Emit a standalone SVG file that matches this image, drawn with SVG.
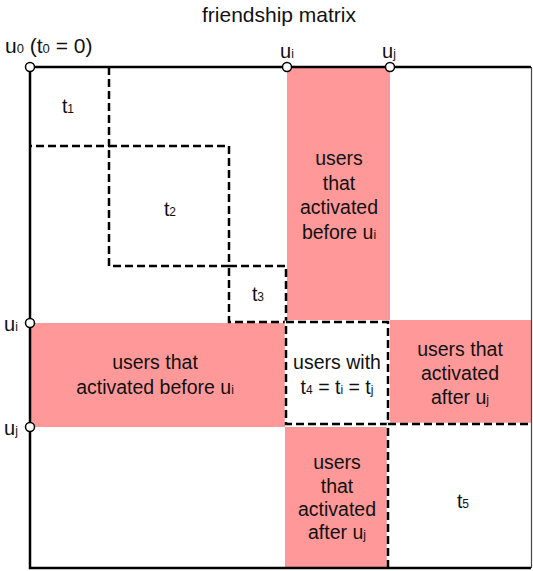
<svg xmlns="http://www.w3.org/2000/svg" width="533" height="571" viewBox="0 0 533 571">
<style>
  text { font-family: "Liberation Sans", Arial, sans-serif; fill: #111; }
  .lbl { font-size: 19.5px; text-anchor: middle; }
  .side { font-size: 20px; }
  .s { font-size: 12px; }
  .pink { fill: #ff9999; }
  .dash { fill: none; stroke: #000; stroke-width: 2.5; stroke-dasharray: 8 4; }
  .under { fill: none; stroke: #fff; stroke-width: 2.5; }
  .border { fill: none; stroke: #000; stroke-width: 2.5; }
  .pt { fill: #fff; stroke: #000; stroke-width: 1.5; }
</style>
<rect width="533" height="571" fill="#fff"/>
<text x="279" y="22" class="lbl" style="font-size:21px">friendship matrix</text>

<g id="before-ui-col">
  <rect class="pink" x="287" y="67" width="103" height="253"/>
  <text class="lbl" x="339" y="165">users</text>
  <text class="lbl" x="339" y="190">that</text>
  <text class="lbl" x="339" y="214">activated</text>
  <text class="lbl" x="339" y="239">before u<tspan class="s">i</tspan></text>
</g>
<g id="before-ui-row">
  <rect class="pink" x="30" y="323" width="255" height="104"/>
  <text class="lbl" x="155" y="369">users that</text>
  <text class="lbl" x="155" y="394">activated before u<tspan class="s">i</tspan></text>
</g>
<g id="after-uj-row">
  <rect class="pink" x="390" y="320" width="141" height="103"/>
  <text class="lbl" x="460" y="356">users that</text>
  <text class="lbl" x="460" y="380">activated</text>
  <text class="lbl" x="460" y="404">after u<tspan class="s">j</tspan></text>
</g>
<g id="after-uj-col">
  <rect class="pink" x="285" y="427" width="103" height="141"/>
  <text class="lbl" x="337" y="469">users</text>
  <text class="lbl" x="337" y="493">that</text>
  <text class="lbl" x="337" y="516">activated</text>
  <text class="lbl" x="337" y="539">after u<tspan class="s">j</tspan></text>
</g>

<g id="t1">
  <path class="dash" d="M109,67 V146 H30"/>
  <text class="lbl" x="68" y="113">t<tspan class="s">1</tspan></text>
</g>
<g id="t2">
  <rect class="dash" x="109" y="146" width="120" height="120"/>
  <text class="lbl" x="170" y="216">t<tspan class="s">2</tspan></text>
</g>
<g id="t3">
  <rect class="dash" x="229" y="266" width="57" height="56"/>
  <text class="lbl" x="258" y="301">t<tspan class="s">3</tspan></text>
</g>
<g id="t4">
  <rect class="under" x="286" y="322" width="102" height="102"/>
  <rect class="dash" x="286" y="322" width="102" height="102"/>
  <text class="lbl" x="337" y="369">users with</text>
  <text class="lbl" x="337" y="394">t<tspan class="s">4</tspan> = t<tspan class="s">i</tspan> = t<tspan class="s">j</tspan></text>
</g>
<g id="t5">
  <path class="under" d="M388,568 V424 H531"/>
  <path class="dash" d="M388,568 V424 H531"/>
  <text class="lbl" x="463" y="508">t<tspan class="s">5</tspan></text>
</g>

<g id="frame">
  <path class="border" d="M531,67 H30 V568 H531"/>
  <path d="M531.5,67 V568" stroke="#444" stroke-width="1.2" fill="none"/>
</g>

<g id="points">
  <circle class="pt" cx="30" cy="67" r="4.5"/>
  <circle class="pt" cx="287" cy="67" r="4.5"/>
  <circle class="pt" cx="390" cy="67" r="4.5"/>
  <circle class="pt" cx="30" cy="323" r="4.5"/>
  <circle class="pt" cx="30" cy="427" r="4.5"/>
  <text class="side" x="5" y="53" style="font-size:21px">u<tspan class="s" style="font-size:13px">0</tspan> (t<tspan class="s" style="font-size:13px">0</tspan> = 0)</text>
  <text class="side" x="280" y="58">u<tspan class="s">i</tspan></text>
  <text class="side" x="382" y="58">u<tspan class="s">j</tspan></text>
  <text class="side" x="4" y="331">u<tspan class="s">i</tspan></text>
  <text class="side" x="4" y="435">u<tspan class="s">j</tspan></text>
</g>
</svg>
